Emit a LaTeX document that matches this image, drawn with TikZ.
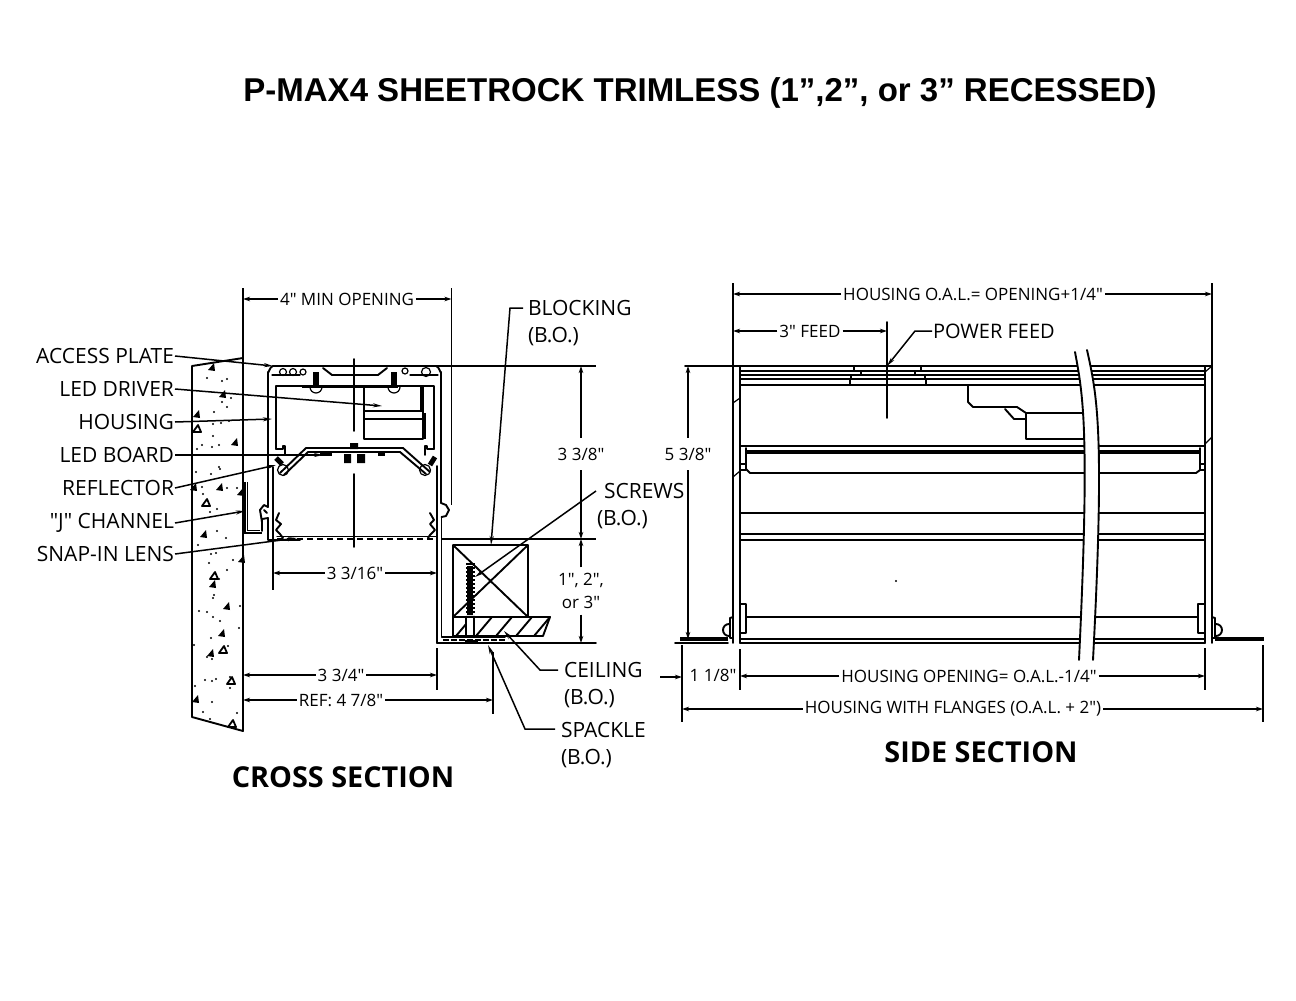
\documentclass[tikz,border=0pt]{standalone}
\usepackage{fontspec}
\newfontfamily\labfont{Open Sans}
\newfontfamily\titlefont{Liberation Sans}
\usetikzlibrary{arrows.meta}
\tikzset{
 x=1pt,y=-1pt,
 every node/.style={inner sep=0pt,outer sep=1pt},
 obj/.style={line width=1.9pt,line cap=round,line join=round},
 fine/.style={line width=1.2pt,line cap=round,line join=round},
 heavy/.style={line width=3pt},
 ext/.style={line width=1.6pt},
 dim/.style={line width=1.5pt,-{Stealth[length=7pt,width=4.5pt]}},
 leadarrow/.style={line width=1.5pt,-{Stealth[length=9pt,width=4pt]}},
 lbl/.style={font=\labfont\fontsize{21}{24}\selectfont,anchor=east},
 txt/.style={font=\labfont\fontsize{21}{26.5}\selectfont,align=left,anchor=west},
 dimt/.style={font=\labfont\fontsize{17}{20}\selectfont,inner sep=1pt},
 head/.style={font=\labfont\bfseries\fontsize{28.8}{32}\selectfont},
}
\begin{document}
\begin{tikzpicture}
\useasboundingbox (0,0) rectangle (1296,1001);
% Titles
\node[font=\titlefont\bfseries\fontsize{33}{36}\selectfont] (title) at (700,93) {P-MAX4 SHEETROCK TRIMLESS (1”,2”, or 3” RECESSED)};
\node[head] (crosshead) at (343,777) {CROSS SECTION};
\node[head] (sidehead) at (981,752) {SIDE SECTION};

% ---------- wall
\draw[obj] (192,366)--(243,358)--(243,731)--(192,717)--cycle;
\foreach \p/\q in {207/378,222/381,227/379,231/398,222/402,227/407,214/412,213/424,221/423,229/421,213/436,202/445,197/449,212/447,219/445,219/467,220/469,196/472,211/474,202/487,227/488,237/488,203/494,217/509,210/512,217/531,226/538,198/545,211/554,216/553,209/563,227/570,233/560,219/579,213/598,214/595,240/606,199/611,207/612,213/617,220/621,239/628,211/638,194/645,228/646,207/657,212/659,205/680,212/681,216/679,230/677,230/688,195/686,212/702,203/712,237/713,210/719}
  \fill (\p,\q) circle (1.2pt);
\foreach \p/\q in {212/367,223/394,197/414,235/442,194/487,220/487,241/492,204/534,242/559,213/584,227/606,222/633,211/653,196/699}
  \fill (\p-4,\q+3)--(\p+3,\q+4)--(\p+2,\q-4)--cycle;
\foreach \p/\q in {197/429,206/503,214/576,223/650,231/681,232/724}
  \draw[line width=1.8pt,line join=round] (\p-4,\q+3)--(\p+4,\q+3)--(\p+1,\q-4)--cycle;

% ---------- housing, cross section
\draw[obj] (268,507)--(268,372) to[out=-90,in=180] (273,366)--(436,366) to[out=0,in=-90] (441,372)--(441,503);
\draw[obj] (323,368)--(332,375)--(378,375)--(387,368);
\draw[fine] (272,375)--(300,375) (410,375)--(438,375);
\draw[fine] (283,372) circle (3.5pt) (293,372) circle (3.5pt) (303,372) circle (3pt) (426,372) circle (4.5pt) (405,371) circle (3pt);
\draw[obj] (276,449)--(276,386)--(434,386)--(434,449);
\draw[heavy] (302,386.5)--(398,386.5);
\draw[line width=5.5pt] (316,372)--(316,386) (394,372)--(394,386);
\draw[fine] (310,387) arc[start angle=180,end angle=360,radius=6pt] (388,387) arc[start angle=180,end angle=360,radius=6pt];
% driver
\draw[obj] (364,386)--(364,439)--(423,439)--(423,411)--(364,411) (364,419)--(423,419) (421,386)--(421,411);
\draw[heavy] (422,386)--(422,411) (424,413)--(424,439);
% notches and reflector
\draw[obj] (276,449)--(283,449)--(283,446)--(285,446)--(285,455);
\draw[obj] (434,449)--(427,449)--(427,446)--(425,446)--(425,455);
\draw[obj] (280,473)--(306,448)--(403,448)--(430,472);
\draw[obj] (284,475)--(308,452)--(400,452)--(426,474);
\draw[fine] (283,470) circle (5.5pt) (425,470) circle (5.5pt);
\draw[line width=5pt] (276,458)--(282,464) (435,457)--(430,465);
\draw[heavy] (320,454.5)--(332,454.5) (378,454)--(385,454);
\fill (344,454) rectangle (351,463) (357,454) rectangle (365,463) (350,443) rectangle (358,449);
% lower body
\draw[obj] (273,467)--(273,540) (437,466)--(437,643) (441.5,517)--(441.5,637);
\draw[obj] (268,518)--(268,540)--(300,540);
\draw[obj] (262,531)--(262,519)--(268,518);
\draw[obj] (262,522)--(260,510)--(264,505)--(268,507) (264,510)--(267,513);
\draw[obj] (279,513)--(276,520)--(281,524)--(276,530)--(280,534)--(283,538);
\draw[obj] (430,513)--(434,520)--(430,524)--(435,530)--(430,535)--(428,538);
\draw[obj] (441,503)--(446,505)--(449,510)--(446,516)--(441.5,517);
\draw[line width=1.6pt,dash pattern=on 6pt off 4pt] (277,539)--(436,539);
\draw[fine] (277,536.5)--(436,536.5);
% J channel
\draw[line width=1.6pt] (245,482)--(245,533)--(262,533) (247.5,482)--(247.5,530.5)--(260,530.5);
% centre line
\draw[obj] (354,359)--(354,431) (354,474)--(354,547);

% ---------- blocking / ceiling
\draw[obj] (453,545) rectangle (528,617) (453,545)--(528,617) (528,545)--(453,617);
\draw[obj] (453,617)--(550,617)--(543,636)--(453,636)--cycle;
\foreach \a in {456,476,496,516,534}
  \draw[obj] (\a,636)--(\a+16,617);
\fill[white] (466,618) rectangle (473,635);
\draw[obj] (466,617)--(466,636) (474,617)--(474,636);
\draw[line width=6pt] (470,566)--(470,615);
\draw[line width=9pt,dash pattern=on 2pt off 2pt] (470,563)--(470,615);
\draw[obj] (437,643)--(596,643) (442,637)--(505,637);
\draw[line width=1.4pt,dash pattern=on 6pt off 2pt] (443,640)--(505,640);
\draw[line width=3pt] (465,641)--(478,641);

% ---------- leaders, cross section
\node[lbl] (access) at (175,356) {ACCESS PLATE};
\node[lbl] (driver) at (175,389) {LED DRIVER};
\node[lbl] (housing) at (175,422) {HOUSING};
\node[lbl] (board) at (175,455) {LED BOARD};
\node[lbl] (reflector) at (175,488) {REFLECTOR};
\node[lbl] (jchan) at (175,523) {"J" CHANNEL};
\node[lbl] (snap) at (175,554) {SNAP-IN LENS};
\coordinate (accessT) at (273,366);
\coordinate (driverT) at (382,406);
\coordinate (housingT) at (272,419);
\coordinate (boardT) at (323,455);
\coordinate (reflT) at (276,465);
\coordinate (jT) at (245,511);
\coordinate (snapT) at (297,538);
\draw[leadarrow] (access.east)--(accessT);
\draw[leadarrow] (driver.east)--(driverT);
\draw[leadarrow] (housing.east)--(housingT);
\draw[leadarrow] (board.east)--(boardT);
\draw[leadarrow] (reflector.east)--(reflT);
\draw[leadarrow] (jchan.east)--(jT);
\draw[leadarrow] (snap.east)--(snapT);

\node[txt] (blocking) at (527,323) {BLOCKING\\(B.O.)};
\coordinate (blockA) at (510,308);
\coordinate (blockB) at (523,308);
\coordinate (blockT) at (491,545);
\draw[leadarrow] (blockB)--(blockA)--(blockT);
\node[txt] (screws) at (596,506) {\hspace*{7pt}SCREWS\\(B.O.)};
\coordinate (screwS) at (596,491);
\coordinate (screwT) at (475,577);
\draw[leadarrow] (screwS)--(screwT);
\node[txt] (ceiling) at (563,685) {CEILING\\(B.O.)};
\coordinate (ceilS) at (558,670);
\coordinate (ceilA) at (540,670);
\coordinate (ceilT) at (504,631);
\draw[leadarrow] (ceilS)--(ceilA)--(ceilT);
\node[txt] (spackle) at (560,745) {SPACKLE\\(B.O.)};
\coordinate (spackS) at (555,729);
\coordinate (spackA) at (525,729);
\coordinate (spackT) at (488,645);
\draw[leadarrow] (spackS)--(spackA)--(spackT);

% ---------- dimensions, cross section
\draw[ext] (243,288)--(243,366) (451.5,288)--(451.5,505);
\draw[ext] (366,366)--(596,366) (441,539)--(596,539);
\draw[ext] (273,541)--(273,590) (243,668)--(243,712) (437,648)--(437,690) (493,652)--(493,714);
\node[dimt] (dA) at (347,299) {4" MIN OPENING};
\draw[dim] (dA.west)--(243,299);
\draw[dim] (dA.east)--(451.5,299);
\node[dimt] (dB) at (581,454) {3 3/8"};
\draw[dim] ([yshift=8pt]dB.north)--(581,366);
\draw[dim] ([yshift=-8pt]dB.south)--(581,539);
\node[dimt,align=center,font=\labfont\fontsize{17}{23}\selectfont] (dC) at (581,591) {1", 2",\\or 3"};
\draw[dim] ([yshift=4pt]dC.north)--(581,539);
\draw[dim] ([yshift=-4pt]dC.south)--(581,643);
\node[dimt] (dD) at (355,573) {3 3/16"};
\draw[dim] (dD.west)--(273,573);
\draw[dim] (dD.east)--(437,573);
\node[dimt] (dE) at (341,675) {3 3/4"};
\draw[dim] (dE.west)--(243,675);
\draw[dim] (dE.east)--(437,675);
\node[dimt] (dF) at (341,700) {REF: 4 7/8"};
\draw[dim] (dF.west)--(243,700);
\draw[dim] (dF.east)--(493,700);

% ---------- side section
\draw[obj] (685,366)--(1212,366);
\draw[obj] (733,366)--(733,643) (740,366)--(740,643);
\draw[obj] (1205,366)--(1205,643) (1212,366)--(1212,643);
\draw[fine] (1205,372)--(1212,366) (733,403)--(740,398) (733,477)--(740,471) (1205,444)--(1212,437);
\foreach \y in {371,375,379,385}
  \draw[obj] (740,\y)--(1205,\y);
\draw[fine] (854,366)--(854,371) (921,366)--(921,371) (861,371)--(861,375) (915,371)--(915,375)
  (851,375)--(851,379) (925,375)--(925,379) (850,379)--(850,385) (926,379)--(926,385);
\draw[obj] (887,322)--(887,418);
% driver outline
\draw[obj] (968,386)--(968,402)--(973,407)--(1017,407)--(1026,413)--(1085,413);
\draw[obj] (1026,413)--(1026,439)--(1085,439);
\draw[obj] (1005,409)--(1014,419)--(1026,419);
% reflector bar
\draw[obj] (740,446)--(1205,446);
\draw[line width=3.5pt] (746,452)--(1199,452);
\draw[obj] (746,448)--(746,469)--(750,473)--(1196,473)--(1200,470)--(1200,448);
\draw[fine] (740,464)--(746,464) (740,470)--(746,470) (1200,464)--(1205,464) (1200,470)--(1205,470);
\draw[obj] (740,513)--(1205,513);
\draw[line width=2.6pt] (740,534)--(1205,534);
\draw[obj] (740,540)--(1205,540);
\draw[obj] (746,617)--(1198,617);
\draw[obj] (740,639)--(1205,639) (740,643)--(1205,643);
% brackets
\draw[obj] (740,604) rectangle (746,633) (1198,604) rectangle (1205,633);
\draw[obj] (733,617)--(730,618)--(730,638)--(733,638);
\draw[obj] (1212,617)--(1215,618)--(1215,638)--(1212,638);
\draw[obj] (729,624) arc[start angle=90,end angle=270,radius=6pt];
\draw[obj] (1216,624) arc[start angle=90,end angle=-90,radius=6pt];
% flanges
\draw[line width=3.5pt] (680,639)--(728,639) (1215,639)--(1264,639);
\draw[obj] (675,643)--(728,643);
% cable
\path[fill=white] (1075,352) .. controls (1083,395) and (1090,430) .. (1079,660)
  -- (1093,660) .. controls (1105,430) and (1097,395) .. (1087,350)--cycle;
\draw[obj] (1075,352) .. controls (1083,395) and (1090,430) .. (1079,660);
\draw[obj] (1087,350) .. controls (1097,395) and (1105,430) .. (1093,660);
\fill (896,581) circle (1.2pt);

% ---------- dimensions, side section
\draw[ext] (733,283)--(733,366) (1212,283)--(1212,366);
\draw[ext] (682,645)--(682,722) (740,649)--(740,690) (1205,648)--(1205,690) (1263,645)--(1263,722);
\node[dimt] (sA) at (973,294) {HOUSING O.A.L.= OPENING+1/4"};
\draw[dim] (sA.west)--(733,294);
\draw[dim] (sA.east)--(1212,294);
\node[dimt] (sB) at (810,331) {3" FEED};
\draw[dim] (sB.west)--(733,331);
\draw[dim] (sB.east)--(887,331);
\node[anchor=west,font=\labfont\fontsize{20}{24}\selectfont] (sP) at (932,331) {POWER FEED};
\coordinate (sPa) at (915,331);
\coordinate (sPt) at (887,366);
\draw[leadarrow] (sP.west)--(sPa)--(sPt);
\node[dimt] (sC) at (688,454) {5 3/8"};
\draw[dim] ([yshift=8pt]sC.north)--(688,366);
\draw[dim] ([yshift=-8pt]sC.south)--(688,639);
\node[dimt] (sD) at (713,675) {1 1/8"};
\coordinate (sDa) at (660,677);
\coordinate (sDb) at (682,677);
\draw[dim] (sDa)--(sDb);
\node[dimt] (sE) at (969,676) {HOUSING OPENING= O.A.L.-1/4"};
\draw[dim] (sE.west)--(740,676);
\draw[dim] (sE.east)--(1205,676);
\node[dimt] (sF) at (953,709) {HOUSING WITH FLANGES (O.A.L. + 2")};
\draw[dim] (sF.west)--(682,709);
\draw[dim] (sF.east)--(1263,709);
\end{tikzpicture}
\end{document}
